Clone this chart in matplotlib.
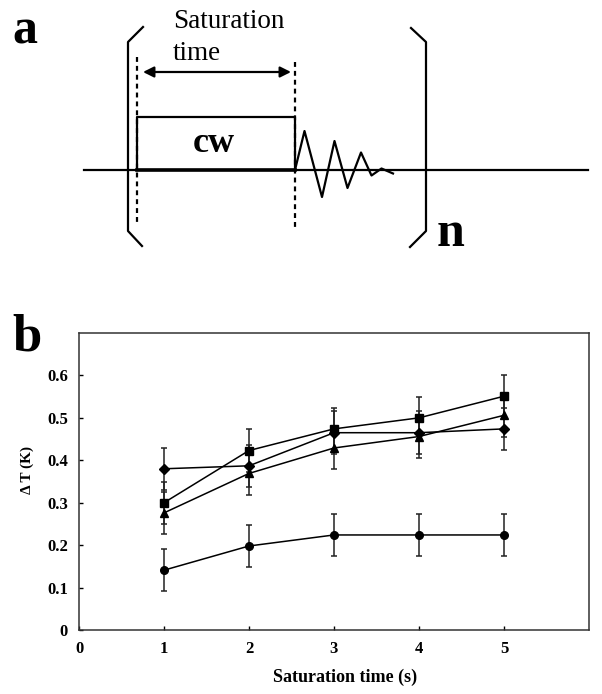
import numpy as np
import matplotlib
matplotlib.use("Agg")
import matplotlib.pyplot as plt

plt.rcParams['font.family'] = ['Liberation Serif', 'DejaVu Serif']

# panel b data
sat_time = [1, 2, 3, 4, 5]
dT_diamond = [0.380, 0.387, 0.465, 0.465, 0.474]
dT_square = [0.300, 0.423, 0.474, 0.500, 0.551]
dT_triangle = [0.276, 0.369, 0.429, 0.456, 0.506]
dT_circle = [0.141, 0.198, 0.224, 0.224, 0.224]
dT_err = [0.05, 0.05, 0.05, 0.05, 0.05]
x_ticks = [0, 1, 2, 3, 4, 5]
y_ticks = [0, 0.1, 0.2, 0.3, 0.4, 0.5, 0.6]
y_ticklabels = ['0', '0.1', '0.2', '0.3', '0.4', '0.5', '0.6']

W, H = 602, 694
fig = plt.figure(figsize=(W / 100, H / 100), dpi=100)

# ---- panel b ----
ax = fig.add_axes([79 / W, (H - 630) / H, (589 - 79) / W, (630 - 333) / H])
for y, m, ms in [(dT_diamond, 'D', 5), (dT_square, 's', 5.5),
                 (dT_triangle, '^', 6), (dT_circle, 'o', 5.5)]:
    ax.errorbar(sat_time, y, yerr=dT_err, fmt='-', marker=m, ms=ms,
                color='black', ecolor='#222222', elinewidth=1.1, lw=1.1,
                capsize=2, capthick=1.1)
ax.set_xlim(0, 6)
ax.set_ylim(0, 0.7)
ax.set_xticks(x_ticks)
ax.set_yticks(y_ticks)
ax.set_yticklabels(y_ticklabels)
ax.tick_params(direction='in', length=3, width=1, pad=8, labelsize=12)
for lab in ax.get_xticklabels() + ax.get_yticklabels():
    lab.set_fontweight('bold')
for s in ax.spines.values():
    s.set_color('#333333')
    s.set_linewidth(1.1)
ax.set_xlabel('Saturation time (s)', fontsize=13, fontweight='bold')
ax.xaxis.set_label_coords((345 - 79) / 510, -0.13)
ax.set_ylabel('\u0394 T (K)', fontsize=11, fontweight='bold',
              family=['Liberation Serif', 'DejaVu Serif'])
ax.yaxis.set_label_coords((34 - 79) / 510, (630 - 470) / 297)

# ---- panel a (schematic, pixel coordinates) ----
ov = fig.add_axes([0, 0, 1, 1])
ov.set_xlim(0, W)
ov.set_ylim(H, 0)
ov.axis('off')
ov.patch.set_alpha(0)

lw = 1.6
# baseline
ov.plot([84, 588], [170, 170], color='black', lw=lw)
ov.plot([137, 295], [170, 170], color='black', lw=2.6)
# left / right brackets
ov.plot([143, 128, 128, 142], [27, 42, 231, 246], color='black', lw=lw)
ov.plot([411, 426, 426, 410], [28, 42, 231, 247], color='black', lw=lw)
# cw pulse box
ov.plot([137, 137, 295, 295], [170, 117, 117, 170], color='black', lw=lw)
# dashed markers
ov.plot([137, 137], [57, 225], color='black', lw=1.6, dashes=(2.2, 1.8))
ov.plot([295, 295], [62, 228], color='black', lw=1.6, dashes=(2.2, 1.8))
# FID zigzag
fid_x = [295, 304.5, 322, 334.5, 347.5, 361, 371.5, 381.5, 393]
fid_y = [170, 131, 197, 141, 188, 152.5, 175.5, 168.5, 173.5]
ov.plot(fid_x, fid_y, color='black', lw=lw)
# double arrow
ov.annotate('', xy=(143, 72), xytext=(291, 72),
            arrowprops=dict(arrowstyle='<|-|>', color='black', lw=1.6,
                            mutation_scale=16, shrinkA=0, shrinkB=0))
ov.text(173, 28, 'Saturation', fontsize=19.5, ha='left', va='baseline')
ov.text(173, 60, 'time', fontsize=19.5, ha='left', va='baseline')
ov.text(214, 152, 'cw', fontsize=26, fontweight='bold', ha='center', va='baseline')
ov.text(437, 246, 'n', fontsize=36, fontweight='bold', ha='left', va='baseline')

# panel letters
ov.text(12, 43, 'a', fontsize=36, fontweight='bold', ha='left', va='baseline')
ov.text(12, 350, 'b', fontsize=38, fontweight='bold', ha='left', va='baseline')

fig.savefig('out.png', dpi=100)
